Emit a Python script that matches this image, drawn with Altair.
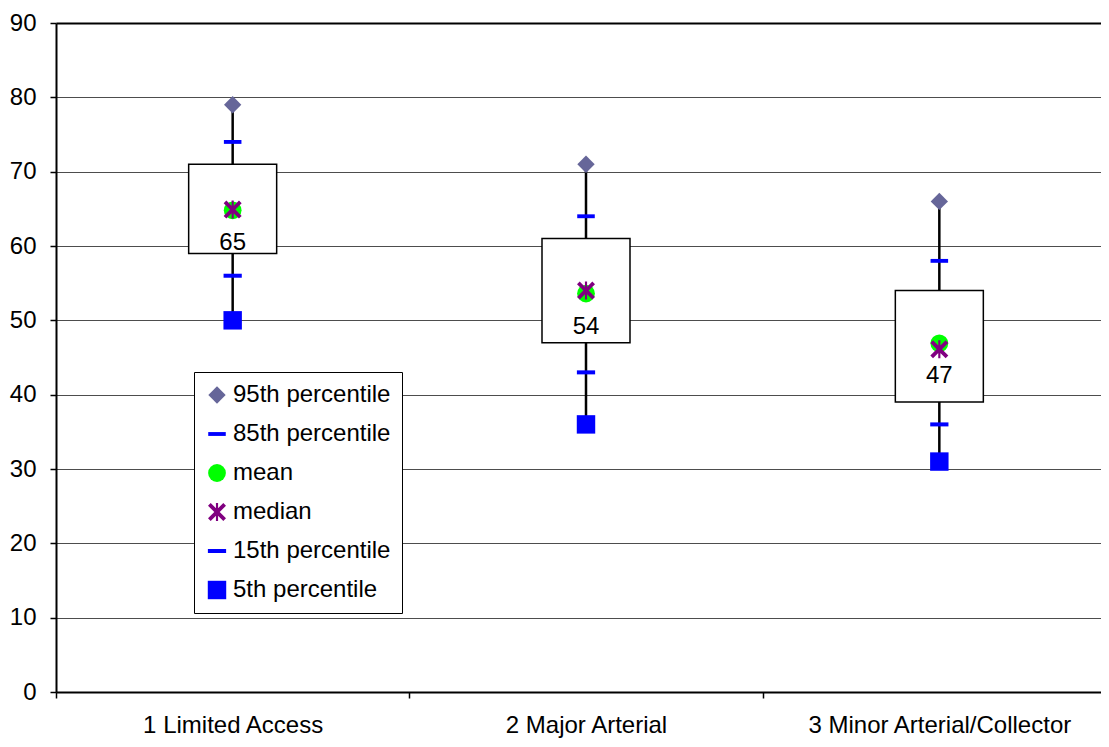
import altair as alt
import pandas as pd

# ---- data ----
categories = ["1 Limited Access", "2 Major Arterial", "3 Minor Arterial/Collector"]
p95 = [79, 71, 66]
p85 = [74, 64, 58]
p75 = [71, 61, 54]
mean = [64.8, 53.6, 46.9]
median = [64.9, 54.0, 46.1]
p25 = [59, 47, 39]
p15 = [56, 43, 36]
p5 = [50, 36, 31]

series_names = ["95th percentile", "85th percentile", "mean", "median",
                "15th percentile", "5th percentile"]

# ---- styles ----
series_colors = ["#666699", "#0000FF", "#00FF00", "#800080", "#0000FF", "#0000FF"]
DASH = "M-1,-0.22L1,-0.22L1,0.22L-1,0.22Z"
XMARK = ("M-1,-0.7L-0.7,-1L0,-0.3L0.7,-1L1,-0.7L0.3,0L1,0.7L0.7,1L0,0.3L-0.7,1L-1,0.7L-0.3,0Z"
         "M-0.12,-1L0.12,-1L0.12,1L-0.12,1Z")
series_shapes = ["diamond", DASH, "circle", XMARK, DASH, "square"]
series_sizes = [300, 340, 300, 24, 340, 220]
FONT = "Liberation Sans"
FS = 24

box_df = pd.DataFrame({
    "category": categories, "p95": p95, "p75": p75, "p25": p25, "p5": p5, "mean": mean,
})

series_values = {
    "95th percentile": p95, "85th percentile": p85, "15th percentile": p15,
    "5th percentile": p5, "mean": mean, "median": median,
}
rows = []
for name in ["95th percentile", "85th percentile", "15th percentile", "5th percentile", "mean", "median"]:
    for c, v in zip(categories, series_values[name]):
        rows.append({"category": c, "series": name, "value": v})
pts_df = pd.DataFrame(rows)

x_enc = alt.X(
    "category:N", sort=categories,
    scale=alt.Scale(type="band", domain=categories, range=[0, 1060], paddingInner=0, paddingOuter=0),
    axis=alt.Axis(title=None, labelAngle=0, tickBand="extent", labelPadding=15, grid=False,
                  labelLimit=500),
)
y_scale = alt.Scale(domain=[0, 90], nice=False, zero=True)
y_axis = alt.Axis(
    title=None, values=list(range(0, 91, 10)), grid=True, labelPadding=14,
    gridColor={"condition": {"test": "datum.value === 90", "value": "#000000"}, "value": "#4d4d4d"},
    gridWidth={"condition": {"test": "datum.value === 90", "value": 2}, "value": 1},
)

whisker = alt.Chart(box_df).mark_rule(color="black", strokeWidth=2.5).encode(
    x=x_enc, y=alt.Y("p5:Q", scale=y_scale, axis=y_axis), y2="p95:Q"
)
box = alt.Chart(box_df).mark_bar(size=88, fill="white", stroke="black", strokeWidth=1.5).encode(
    x=x_enc, y=alt.Y("p25:Q", scale=y_scale, axis=y_axis), y2="p75:Q"
)

legend = alt.Legend(
    title=None, orient="none", legendX=138, legendY=349,
    fillColor="white", strokeColor="black", padding=11,
    labelFont=FONT, labelFontSize=FS, labelColor="black", labelLimit=400,
    rowPadding=15, labelOffset=4, symbolStrokeWidth=0, symbolOpacity=1,
)
points = alt.Chart(pts_df).mark_point(filled=True, opacity=1, strokeWidth=0).encode(
    x=x_enc,
    y=alt.Y("value:Q", scale=y_scale, axis=y_axis),
    color=alt.Color("series:N", scale=alt.Scale(domain=series_names, range=series_colors), legend=legend),
    shape=alt.Shape("series:N", scale=alt.Scale(domain=series_names, range=series_shapes), legend=legend),
    size=alt.Size("series:N", scale=alt.Scale(domain=series_names, range=series_sizes), legend=legend),
)
labels = alt.Chart(box_df).mark_text(dy=33, fontSize=FS, font=FONT, color="black").encode(
    x=x_enc, y=alt.Y("mean:Q", scale=y_scale, axis=y_axis),
    text=alt.Text("mean:Q", format=".0f"),
)

chart = alt.layer(whisker, box, points, labels).properties(
    width=1045, height=669,
    autosize=alt.AutoSizeParams(type="none"),
    padding={"left": 48, "top": 15, "right": 0, "bottom": 47},
).configure_view(stroke=None).configure_axis(
    labelFont=FONT, labelFontSize=FS, labelColor="black",
    domainColor="black", domainWidth=2, tickColor="black", tickWidth=1.5, tickSize=6,
)

chart.save("out.html", embed_options={"renderer": "svg", "actions": False})
